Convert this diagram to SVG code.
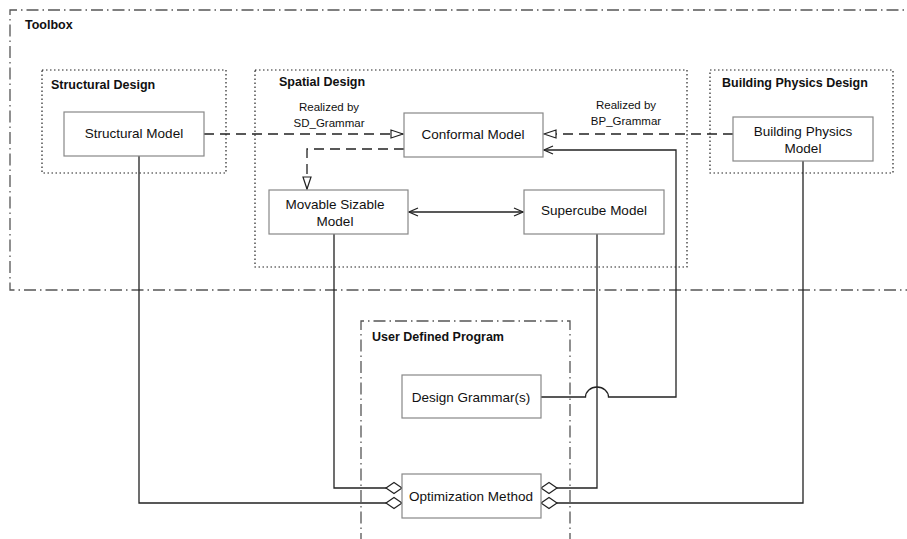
<svg xmlns="http://www.w3.org/2000/svg" width="907" height="539" viewBox="0 0 907 539">
<style>
text{font-family:"Liberation Sans",Arial,sans-serif;fill:#111}
.t{font-size:13.5px;text-anchor:middle}
.l{font-size:11.5px;text-anchor:middle}
.b{font-size:12.5px;font-weight:bold}
.box{fill:#fff;stroke:#888;stroke-width:1.2}
.dot{fill:none;stroke:#222;stroke-width:1.2;stroke-dasharray:1.5,2.5}
.dd{fill:none;stroke:#555;stroke-width:1.3;stroke-dasharray:12,4,1.5,4}
.c{fill:none;stroke:#222;stroke-width:1.3}
.dash{stroke-dasharray:10,6}
</style>
<defs>
<marker id="tri" markerUnits="userSpaceOnUse" markerWidth="16" markerHeight="12" viewBox="-14 -6 16 12" refX="0" refY="0" orient="auto">
<path d="M0,0 L-12,-4 L-12,4 Z" fill="#fff" stroke="#222" stroke-width="1.2"/>
</marker>
<marker id="vee" markerUnits="userSpaceOnUse" markerWidth="14" markerHeight="12" viewBox="-12 -6 14 12" refX="0" refY="0" orient="auto">
<path d="M-9,-4 L0,0 L-9,4" fill="none" stroke="#222" stroke-width="1.3"/>
</marker>
<marker id="veeS" markerUnits="userSpaceOnUse" markerWidth="14" markerHeight="12" viewBox="-2 -6 14 12" refX="0" refY="0" orient="auto">
<path d="M9,-4 L0,0 L9,4" fill="none" stroke="#222" stroke-width="1.3"/>
</marker>
<marker id="dia" markerUnits="userSpaceOnUse" markerWidth="20" markerHeight="14" viewBox="-18 -7 20 14" refX="0" refY="0" orient="auto">
<path d="M0,0 L-8,-5.5 L-16,0 L-8,5.5 Z" fill="#fff" stroke="#222" stroke-width="1.2"/>
</marker>
</defs>

<g id="toolbox">
<path class="dd" d="M920,10 H10 V290 H920"/>
<text class="b" x="25" y="29">Toolbox</text>
</g>
<g id="structural-design">
<rect class="dot" x="42" y="70" width="184" height="103"/>
<text class="b" x="51" y="89">Structural Design</text>
</g>
<g id="spatial-design">
<rect class="dot" x="255" y="70" width="432" height="197"/>
<text class="b" x="279" y="86">Spatial Design</text>
</g>
<g id="building-physics-design">
<rect class="dot" x="710" y="70" width="183" height="103"/>
<text class="b" x="722" y="87">Building Physics Design</text>
</g>
<g id="user-defined-program">
<path class="dd" d="M361,545 V321 H570 V545"/>
<text class="b" x="372" y="341">User Defined Program</text>
</g>

<g id="connectors">
<path class="c dash" d="M204,134 H403" marker-end="url(#tri)"/>
<path class="c dash" d="M404,149 H307 V189" marker-end="url(#tri)"/>
<path class="c dash" d="M733,134 H544" marker-end="url(#tri)"/>
<path class="c" d="M409,212 H523" marker-start="url(#veeS)" marker-end="url(#vee)"/>
<path class="c" d="M541,397 H585.5 A11.5,10 0 0 1 608.5,397 H676 V150 H544" marker-end="url(#vee)"/>
<path class="c" d="M139,156 V503 H402" marker-end="url(#dia)"/>
<path class="c" d="M334,234 V488 H402" marker-end="url(#dia)"/>
<path class="c" d="M597,234 V488 H541" marker-end="url(#dia)"/>
<path class="c" d="M803,161 V503 H541" marker-end="url(#dia)"/>
</g>

<g id="label-sd">
<text class="l" x="329" y="111">Realized by</text>
<text class="l" x="329" y="127">SD_Grammar</text>
</g>
<g id="label-bp">
<text class="l" x="626" y="109">Realized by</text>
<text class="l" x="626" y="125">BP_Grammar</text>
</g>

<g id="structural-model">
<rect class="box" x="64" y="112" width="140" height="44"/>
<text class="t" x="134" y="138">Structural Model</text>
</g>
<g id="conformal-model">
<rect class="box" x="404" y="113" width="139" height="44"/>
<text class="t" x="473" y="139">Conformal Model</text>
</g>
<g id="building-physics-model">
<rect class="box" x="733" y="117" width="140" height="44"/>
<text class="t" x="803" y="136">Building Physics</text>
<text class="t" x="803" y="153">Model</text>
</g>
<g id="movable-sizable-model">
<rect class="box" x="269" y="190" width="139" height="44"/>
<text class="t" x="335" y="209">Movable Sizable</text>
<text class="t" x="335" y="226">Model</text>
</g>
<g id="supercube-model">
<rect class="box" x="524" y="190" width="140" height="44"/>
<text class="t" x="594" y="215">Supercube Model</text>
</g>
<g id="design-grammars">
<rect class="box" x="402" y="375" width="139" height="43"/>
<text class="t" x="471" y="402">Design Grammar(s)</text>
</g>
<g id="optimization-method">
<rect class="box" x="402" y="474" width="139" height="44"/>
<text class="t" x="471" y="501">Optimization Method</text>
</g>
</svg>
